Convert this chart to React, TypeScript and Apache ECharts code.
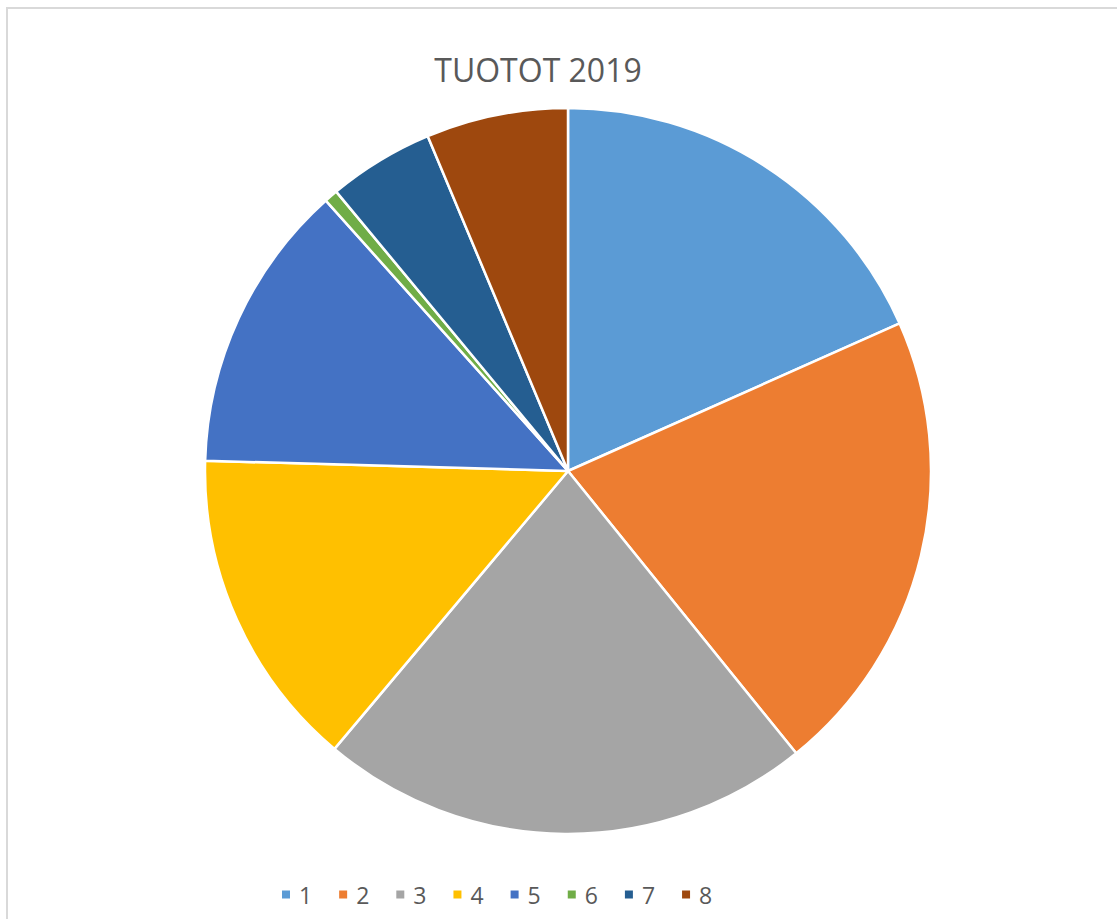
import React, { useEffect, useRef } from "react";
import * as echarts from "echarts";

const categories = ["1", "2", "3", "4", "5", "6", "7", "8"];
const values = [18.3, 20.8, 21.9, 14.3, 12.9, 0.6, 4.7, 6.3];
const colors = ["#5B9BD5", "#ED7D31", "#A5A5A5", "#FFC000", "#4472C4", "#70AD47", "#255E91", "#9E480E"];
const titleText = "TUOTOT 2019";

export default function App() {
  const ref = useRef<HTMLDivElement>(null);
  useEffect(() => {
    if (!ref.current) return;
    const chart = echarts.init(ref.current, null, { renderer: "svg" });
    chart.setOption({
      animation: false,
      backgroundColor: "#ffffff",
      color: colors,
      title: {
        text: titleText,
        left: 533,
        top: 48,
        textAlign: "center",
        textStyle: {
          fontFamily: "Open Sans, sans-serif",
          fontSize: 32,
          fontWeight: "normal",
          color: "#595959",
        },
      },
      legend: {
        data: categories,
        left: 280,
        top: 883,
        padding: 0,
        icon: "rect",
        itemWidth: 10,
        itemHeight: 10,
        itemGap: 25,
        textStyle: {
          fontFamily: "Open Sans, sans-serif",
          fontSize: 23,
          color: "#595959",
          padding: [0, 0, 0, 3],
        },
      },
      graphic: [
        {
          type: "rect",
          shape: { x: 7, y: 8, width: 1200, height: 1000 },
          style: { fill: "none", stroke: "#d9d9d9", lineWidth: 2 },
          silent: true,
          z: -1,
        },
      ],
      series: [
        {
          type: "pie",
          center: [568, 471],
          radius: [0, 363],
          startAngle: 90,
          clockwise: true,
          label: { show: false },
          labelLine: { show: false },
          itemStyle: { borderColor: "#ffffff", borderWidth: 2.5 },
          emphasis: { disabled: true },
          data: categories.map((c, i) => ({ name: c, value: values[i] })),
        },
      ],
    });
    return () => chart.dispose();
  }, []);
  return (
    <div
      ref={ref}
      style={{ position: "fixed", left: 0, top: 0, width: 1117, height: 919 }}
    />
  );
}
